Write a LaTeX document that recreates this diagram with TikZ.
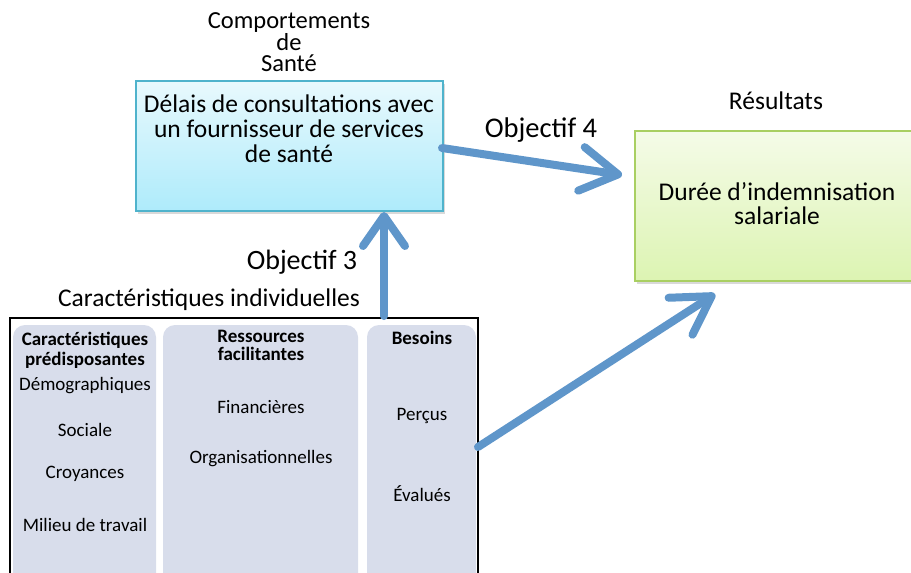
\documentclass[tikz,border=0pt]{standalone}
\usepackage{fontspec}
\setmainfont{Carlito}
\usetikzlibrary{arrows.meta,shadows}
\definecolor{arrowblue}{HTML}{5F96CA}
\definecolor{bluetop}{HTML}{E8F9FD}
\definecolor{bluebot}{HTML}{AEEBFB}
\definecolor{blueborder}{HTML}{4FB3CC}
\definecolor{greentop}{HTML}{F5FBE8}
\definecolor{greenbot}{HTML}{DCF4B2}
\definecolor{greenborder}{HTML}{A9CF62}
\definecolor{panelfill}{HTML}{D8DDEB}
\tikzset{
  bigarrow/.style={draw=arrowblue, line width=8pt, line cap=round,
    -{Straight Barb[length=30pt,width=42pt,round]}},
  bigarrowlong/.style={bigarrow, -{Straight Barb[length=37pt,width=44pt,round]}},
  panel/.style={fill=panelfill, rounded corners=12pt},
  ptext/.style={font=\fontsize{19}{22}\selectfont, align=center},
  phead/.style={font=\bfseries\fontsize{19}{20}\selectfont, align=center},
  btext/.style={font=\fontsize{25.5}{25}\selectfont, align=center},
}
\begin{document}
\begin{tikzpicture}[x=1pt,y=-1pt]
\useasboundingbox (0,0) rectangle (911,573);
% blue box
\node[draw=blueborder, line width=2pt, top color=bluetop, bottom color=bluebot,
  minimum width=307pt, minimum height=130pt, anchor=north west,
  drop shadow={shadow xshift=2pt,shadow yshift=-3pt,opacity=0.3}] (sante) at (135,80) {};
\node[btext] (santetxt) at (289,129) {Délais de consultations avec\\un fournisseur de services\\de santé};
% green box
\node[draw=greenborder, line width=2pt, top color=greentop, bottom color=greenbot,
  minimum width=290pt, minimum height=150pt, anchor=north west,
  drop shadow={shadow xshift=2pt,shadow yshift=-3pt,opacity=0.3}] (res) at (634,130) {};
\node[font=\fontsize{25.5}{24}\selectfont, align=center] (restxt) at (777,204) {Durée d’indemnisation\\salariale};
% titles
\node[font=\fontsize{24.5}{20.5}\selectfont, align=center] (t1) at (289,42) {Comportements\\de\\Santé};
\node[font=\fontsize{25.5}{24}\selectfont] (t2) at (776,101) {Résultats};
\node[font=\fontsize{28.5}{25}\selectfont] (o4) at (541,130) {Objectif 4};
\node[font=\fontsize{28}{25}\selectfont] (o3) at (302,262) {Objectif 3};
\node[font=\fontsize{25.5}{23}\selectfont] (ci) at (209,300) {Caractéristiques individuelles};
% panels
\path[panel] (13,325) rectangle (156,590);
\path[panel] (163,325) rectangle (358,590);
\path[panel] (367,325) rectangle (476,590);
% outer frame
\draw[black, line width=1.2pt] (10,573) |- (478,318) -- (478,573);
% panel 1
\node[phead] (p1h) at (85,350) {Caractéristiques\\prédisposantes};
\node[ptext] (p1a) at (85,386) {Démographiques};
\node[ptext] (p1b) at (85,430) {Sociale};
\node[ptext] (p1c) at (85,474) {Croyances};
\node[ptext] (p1d) at (85,525) {Milieu de travail};
% panel 2
\node[phead, font=\bfseries\fontsize{19}{18}\selectfont] (p2h) at (261,345) {Ressources\\facilitantes};
\node[ptext] (p2a) at (261,407) {Financières};
\node[ptext] (p2b) at (261,459) {Organisationnelles};
% panel 3
\node[phead] (p3h) at (422,338) {Besoins};
\node[ptext] (p3a) at (422,416) {Perçus};
\node[ptext] (p3b) at (422,494) {Évalués};
% arrows
\coordinate (a3s) at (384,316);
\coordinate (a3e) at (384,212);
\draw[bigarrow] (a3s) -- (a3e);
\coordinate (a4s) at (442,148);
\coordinate (a4e) at (622,175);
\draw[bigarrowlong] (a4s) -- (a4e);
\coordinate (a5s) at (478,447);
\coordinate (a5e) at (715,294);
\draw[bigarrowlong] (a5s) -- (a5e);
\end{tikzpicture}
\end{document}
